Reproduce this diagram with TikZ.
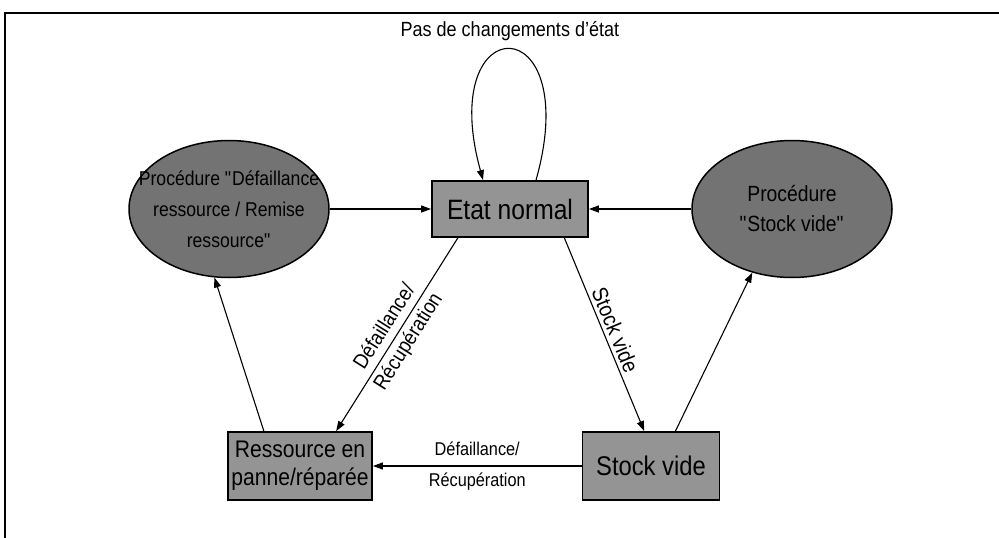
\documentclass[tikz,border=0pt]{standalone}
\usepackage{fontspec}
\setmainfont{Liberation Sans}[FakeStretch=0.88]
\usetikzlibrary{arrows.meta, positioning, shapes.geometric}

\begin{document}
\begin{tikzpicture}[
    x=1pt, y=-1pt,
    every node/.style={font=\fontsize{24}{28}\selectfont},
    state/.style={rectangle, draw, line width=1.8pt, fill=black!42, align=center, inner sep=2pt},
    proc/.style={ellipse, draw, line width=1.5pt, fill=black!55, minimum width=200pt, minimum height=137pt, inner sep=0pt},
    proctext/.style={align=center, font=\fontsize{20}{31}\selectfont},
    arrow/.style={-{Triangle[length=10pt, width=7pt]}, line width=1.1pt},
    edgelabel/.style={align=center, font=\fontsize{21}{28}\selectfont},
    flatlabel/.style={align=center, font=\fontsize{18.5}{31}\selectfont}
]
\useasboundingbox (0,0) rectangle (999,538);
\draw[line width=2pt] (5,538) -- (5,13) -- (999,13);

\node[state, minimum width=156pt, minimum height=56pt, font=\fontsize{28}{30}\selectfont] (normal) at (510,209) {Etat normal};
\node[state, minimum width=144pt, minimum height=68pt] (panne) at (300,466) {Ressource en\\panne/réparée};
\node[state, minimum width=137pt, minimum height=68pt, font=\fontsize{27}{30}\selectfont] (vide) at (651,466) {Stock vide};
\node[proc, label={[proctext]center:{Procédure \textquotedbl Défaillance\\ressource / Remise\\ressource\textquotedbl}}] (procpanne) at (229,209) {};
\node[proc, label={[proctext, font=\fontsize{22}{30}\selectfont]center:{Procédure\\\textquotedbl Stock vide\textquotedbl}}] (procvide) at (792,209) {};

\draw[arrow] (procpanne) -- (normal);
\draw[arrow] (procvide) -- (normal);
\draw[arrow] (normal.209) -- node[edgelabel, sloped] {Défaillance/\\Récupération} (panne.44);
\draw[arrow] (normal.-28) -- node[edgelabel, sloped, above, font=\fontsize{22}{26}\selectfont] {Stock vide} (vide.101);
\draw[arrow] (vide) -- node[flatlabel] {Défaillance/\\Récupération} (panne);
\draw[arrow] (panne.136) -- (procpanne.258);
\draw[arrow] (vide.55) -- (procvide.238);
\draw[arrow] (normal.48) .. controls (585,6) and (435,6) .. node[above=5pt, font=\fontsize{20.5}{22}\selectfont] {Pas de changements d'état} (normal.133);

\end{tikzpicture}
\end{document}
